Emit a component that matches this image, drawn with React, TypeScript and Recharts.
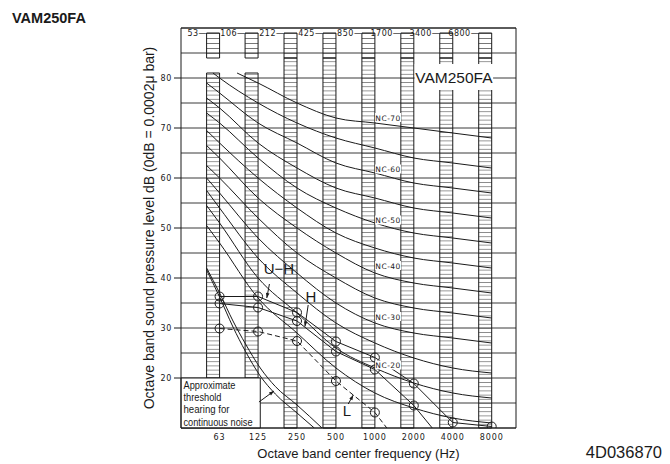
import React from 'react';
import {
  ComposedChart,
  Line,
  XAxis,
  YAxis,
  CartesianGrid,
  ReferenceArea,
  ReferenceDot,
  ReferenceLine,
} from 'recharts';

// octave band centre frequencies and band edge labels
const FREQS = [63, 125, 250, 500, 1000, 2000, 4000, 8000];
const BAND_EDGES = ['53', '106', '212', '425', '850', '1700', '3400', '6800'];

const Y_TICKS = [10, 15, 20, 25, 30, 35, 40, 45, 50, 55, 60, 65, 70, 75, 80, 85, 90];
const Y_LABELS = [20, 30, 40, 50, 60, 70, 80];

// NC curves, values at 63 ... 8000 Hz
const NC_NAMES = ['NC-15', 'NC-20', 'NC-25', 'NC-30', 'NC-35', 'NC-40', 'NC-45', 'NC-50', 'NC-55', 'NC-60', 'NC-65', 'NC-70'];
const NC_LEVELS = [
  [47, 36, 29, 22, 17, 14, 12, 11],
  [51, 40, 33, 26, 22, 19, 17, 16],
  [54, 44, 37, 31, 27, 24, 22, 21],
  [57, 48, 41, 35, 31, 29, 28, 27],
  [60, 52, 45, 40, 36, 34, 33, 32],
  [64, 56, 50, 45, 41, 39, 38, 37],
  [67, 60, 54, 49, 46, 44, 43, 42],
  [71, 64, 58, 54, 51, 49, 48, 47],
  [74, 67, 62, 58, 56, 54, 53, 52],
  [77, 71, 67, 63, 61, 59, 58, 57],
  [80, 75, 71, 68, 66, 64, 63, 62],
  [83, 79, 75, 72, 71, 70, 69, 68],
];
// where each curve begins on the left (Hz, dB)
const NC_START = [
  [50, 50.5], [50, 54.5], [50, 57.5], [50, 60], [50, 62.5], [50, 66.5],
  [50, 69.5], [50, 73], [50, 76], [50, 79], [56, 81], [86, 81],
];

// measured unit levels
const UH = [36.3, 36.3, 33.1, 27.3, 24.1, 18.9, 11.1, 10.3];
const H = [34.9, 34.1, 31.4, 25.3, 21.7, 14.5, 5];
const L = [29.9, 29.3, 27.4, 19.4, 13.1, 3];

// approximate threshold of hearing (two traces), Hz / dB
const TH_LOW = [[50, 41.6], [63, 36.2], [80, 30.2], [100, 25.3], [130, 20.4], [170, 16.8], [250, 13], [340, 10]];
const TH_HIGH = [[50, 42], [63, 37], [80, 31.4], [100, 26.8], [130, 22], [170, 18.3], [250, 14.6], [390, 10]];

const XMIN = 31.7;
const XMAX = 12330;
const INK = '#1a1a1a';
const FONT = '"Liberation Sans", Arial, sans-serif';
const SMALL = '"DejaVu Sans", sans-serif';

const toPts = (vals: number[]) => vals.map((db, i) => ({ f: FREQS[i], db }));
const pairPts = (arr: number[][]) => arr.map(([f, db]) => ({ f, db }));

const ncSeries = NC_LEVELS.map((lv, i) => {
  const [sf, sd] = NC_START[i];
  return [{ f: sf, db: sd }, ...toPts(lv).filter((p) => p.f > sf)];
});

const XTick = (p: any) => (
  <text x={p.x} y={p.y + 12} textAnchor="middle" fontSize={8} fill={INK} letterSpacing={0.9} fontFamily={SMALL}>
    {p.payload.value}
  </text>
);

const YTick = (p: any) => {
  const v = p.payload.value;
  if (!Y_LABELS.includes(v)) return <g />;
  return (
    <g>
      <line x1={p.x - 7} x2={p.x} y1={p.y} y2={p.y} stroke={INK} />
      <text x={p.x - 9} y={p.y + 3} textAnchor="end" fontSize={8} fill={INK} letterSpacing={0.6} fontFamily={SMALL}>
        {v}
      </text>
    </g>
  );
};

const arrowShape = (p: any) => {
  const { x1, y1, x2, y2 } = p;
  const a = Math.atan2(y2 - y1, x2 - x1);
  const len = 5;
  const w = 1.8;
  const bx = x2 - len * Math.cos(a);
  const by = y2 - len * Math.sin(a);
  const pts = `${x2},${y2} ${bx - w * Math.sin(a)},${by + w * Math.cos(a)} ${bx + w * Math.sin(a)},${by - w * Math.cos(a)}`;
  return (
    <g>
      <line x1={x1} y1={y1} x2={x2} y2={y2} stroke={INK} strokeWidth={1} />
      <polygon points={pts} fill={INK} />
    </g>
  );
};

const note = (key: string, f: number, db: number, draw: (x: number, y: number) => React.ReactNode) => (
  <ReferenceDot
    key={key}
    x={f}
    y={db}
    r={0}
    fill="none"
    stroke="none"
    label={{
      content: (p: any) => {
        const vb = p.viewBox || {};
        return draw((vb.x || 0) + (vb.width || 0) / 2, (vb.y || 0) + (vb.height || 0) / 2);
      },
    }}
  />
);

const NC_LABEL_AT = [
  ['NC-70', 72.1],
  ['NC-60', 61.8],
  ['NC-50', 51.6],
  ['NC-40', 42.5],
  ['NC-30', 32.3],
  ['NC-20', 22.6],
] as [string, number][];

const BOX_LINES = ['Approximate', 'threshold', 'hearing for', 'continuous noise'];
const BOX_WIDTHS = [52, 38, 46, 69];

const circle = { r: 4.5, fill: 'none', stroke: INK, strokeWidth: 1, strokeDasharray: 'none' };

export default function App() {
  return (
    <div style={{ position: 'fixed', left: 0, top: 0, width: 670, height: 464, background: '#fff', fontFamily: FONT }}>
      <ComposedChart width={670} height={464} margin={{ top: 28, right: 154, bottom: 0, left: 0 }}>
        <defs>
          <pattern id="hatchTop" patternUnits="userSpaceOnUse" x={0} y={28} width={10} height={5}>
            <rect x={0} y={0} width={10} height={0.8} fill="#555" />
          </pattern>
          <pattern id="hatchMain" patternUnits="userSpaceOnUse" x={0} y={28} width={10} height={25 / 6}>
            <rect x={0} y={0} width={10} height={0.7} fill="#666" />
          </pattern>
        </defs>
        <CartesianGrid vertical={false} stroke="#3a3a3a" />
        <XAxis
          type="number"
          dataKey="f"
          scale="log"
          domain={[XMIN, XMAX]}
          allowDataOverflow
          ticks={FREQS}
          interval={0}
          height={36}
          tickSize={0}
          tickMargin={0}
          axisLine={false}
          tickLine={false}
          tick={XTick}
          label={{
            content: (p: any) => {
              const vb = p.viewBox;
              return (
                <text x={vb.x + vb.width / 2 + 10} y={vb.y + 30} textAnchor="middle" fontSize={13} fill={INK} fontFamily={FONT}>
                  Octave band center frequency (Hz)
                </text>
              );
            },
          }}
        />
        <YAxis
          type="number"
          dataKey="db"
          domain={[10, 90]}
          allowDataOverflow
          ticks={Y_TICKS}
          interval={0}
          width={181}
          tickSize={0}
          tickMargin={0}
          axisLine={false}
          tickLine={false}
          tick={YTick}
          label={{
            content: (p: any) => {
              const vb = p.viewBox;
              const cx = vb.x + vb.width - 32;
              const cy = vb.y + vb.height / 2;
              return (
                <text
                  x={cx}
                  y={cy}
                  transform={`rotate(-90 ${cx} ${cy})`}
                  textAnchor="middle"
                  dominantBaseline="central"
                  fontSize={14}
                  fill={INK}
                  fontFamily={FONT}
                >
                  Octave band sound pressure level dB (0dB = 0.0002μ bar)
                </text>
              );
            },
          }}
        />

        {/* octave band ladders */}
        {FREQS.map((f) => (
          <ReferenceArea key={`lt${f}`} x1={f / 1.26} x2={f} y1={84} y2={89} fill="url(#hatchTop)" fillOpacity={1} stroke={INK} strokeWidth={1} />
        ))}
        {FREQS.map((f, i) => (
          <ReferenceArea
            key={`lm${f}`}
            x1={f / 1.26}
            x2={f}
            y1={i < 2 ? 20 : 10}
            y2={i < 2 ? 81 : 84}
            fill="url(#hatchMain)"
            fillOpacity={1}
            stroke={INK}
            strokeWidth={1}
          />
        ))}

        {/* threshold box */}
        <ReferenceArea
          x1={XMIN}
          x2={130}
          y1={10}
          y2={20}
          fill="#fff"
          fillOpacity={1}
          stroke={INK}
          strokeWidth={1}
          label={{
            content: (p: any) => {
              const vb = p.viewBox;
              return (
                <g>
                  {BOX_LINES.map((t, k) => (
                    <text
                      key={t}
                      x={vb.x + 2.5}
                      y={vb.y + 10.5 + k * 12.4}
                      fontSize={11.5}
                      fill={INK}
                      fontFamily={FONT}
                      textLength={BOX_WIDTHS[k]}
                      lengthAdjust="spacingAndGlyphs"
                    >
                      {t}
                    </text>
                  ))}
                </g>
              );
            },
          }}
        />

        {/* model label box */}
        <ReferenceArea
          x1={2030}
          x2={8200}
          y1={77.6}
          y2={82.8}
          fill="#fff"
          fillOpacity={1}
          stroke="none"
          label={{
            content: (p: any) => {
              const vb = p.viewBox;
              return (
                <text x={vb.x + vb.width / 2} y={vb.y + vb.height / 2 + 5.5} textAnchor="middle" fontSize={15.5} fill={INK} fontFamily={FONT}>
                  VAM250FA
                </text>
              );
            },
          }}
        />

        {/* frame */}
        <ReferenceArea x1={XMIN} x2={XMAX} y1={10} y2={90} fill="none" stroke={INK} strokeWidth={1} />

        {/* NC curves */}
        {ncSeries.map((pts, i) => (
          <Line
            key={NC_NAMES[i]}
            name={NC_NAMES[i]}
            data={pts}
            dataKey="db"
            type="monotone"
            stroke={INK}
            strokeWidth={1}
            dot={false}
            activeDot={false}
            isAnimationActive={false}
          />
        ))}

        {/* threshold of hearing */}
        <Line name="th-low" data={pairPts(TH_LOW)} dataKey="db" type="monotone" stroke={INK} strokeWidth={1} dot={false} activeDot={false} isAnimationActive={false} />
        <Line name="th-high" data={pairPts(TH_HIGH)} dataKey="db" type="monotone" stroke={INK} strokeWidth={1} dot={false} activeDot={false} isAnimationActive={false} />

        {/* measured */}
        <Line name="U-H" data={toPts(UH)} dataKey="db" type="linear" stroke={INK} strokeWidth={1} dot={circle} activeDot={false} isAnimationActive={false} />
        <Line name="H" data={toPts(H)} dataKey="db" type="linear" stroke={INK} strokeWidth={1} dot={circle} activeDot={false} isAnimationActive={false} />
        <Line name="L" data={toPts(L)} dataKey="db" type="linear" stroke={INK} strokeWidth={1} strokeDasharray="5 3" dot={circle} activeDot={false} isAnimationActive={false} />

        {/* leader arrows */}
        <ReferenceLine segment={[{ x: 127, y: 15.2 }, { x: 166, y: 17.4 }]} shape={arrowShape} />
        <ReferenceLine segment={[{ x: 153, y: 38.8 }, { x: 146, y: 36.0 }]} shape={arrowShape} />
        <ReferenceLine segment={[{ x: 305, y: 34.6 }, { x: 288, y: 30.3 }]} shape={arrowShape} />
        <ReferenceLine segment={[{ x: 622, y: 14.8 }, { x: 681, y: 16.6 }]} shape={arrowShape} />

        {/* band edge labels */}
        {FREQS.map((f, i) =>
          note(`be${f}`, f / 1.26, 89, (x, y) => (
            <text x={x + 0.5} y={y + 2.8} textAnchor="end" fontSize={8} fill={INK} letterSpacing={0.5} fontFamily={SMALL}>
              {BAND_EDGES[i]}—
            </text>
          ))
        )}

        {/* NC labels */}
        {NC_LABEL_AT.map(([t, db]) =>
          note(t, 1265, db, (x, y) => (
            <g>
              <rect x={x - 13} y={y - 4.5} width={26} height={9} fill="#fff" />
              <text x={x} y={y + 3} textAnchor="middle" fontSize={7.5} fill={INK} letterSpacing={0.5} fontFamily={SMALL}>
                {t}
              </text>
            </g>
          ))
        )}

        {/* series names */}
        {note('uh', 181, 42, (x, y) => (
          <text x={x} y={y + 5.5} textAnchor="middle" fontSize={15} fill={INK} fontFamily={FONT}>
            U−H
          </text>
        ))}
        {note('h', 320, 36.4, (x, y) => (
          <text x={x} y={y + 5.5} textAnchor="middle" fontSize={15} fill={INK} fontFamily={FONT}>
            H
          </text>
        ))}
        {note('l', 608, 13.6, (x, y) => (
          <text x={x} y={y + 5.5} textAnchor="middle" fontSize={15} fill={INK} fontFamily={FONT}>
            L
          </text>
        ))}
      </ComposedChart>

      <svg width={670} height={464} style={{ position: 'absolute', left: 0, top: 0, pointerEvents: 'none' }}>
        <text x={12} y={23} fontSize={14.5} fontWeight="bold" fill={INK} fontFamily={FONT}>
          VAM250FA
        </text>
        <text x={662} y={458} textAnchor="end" fontSize={16.5} fill={INK} fontFamily={FONT}>
          4D036870
        </text>
      </svg>
    </div>
  );
}
